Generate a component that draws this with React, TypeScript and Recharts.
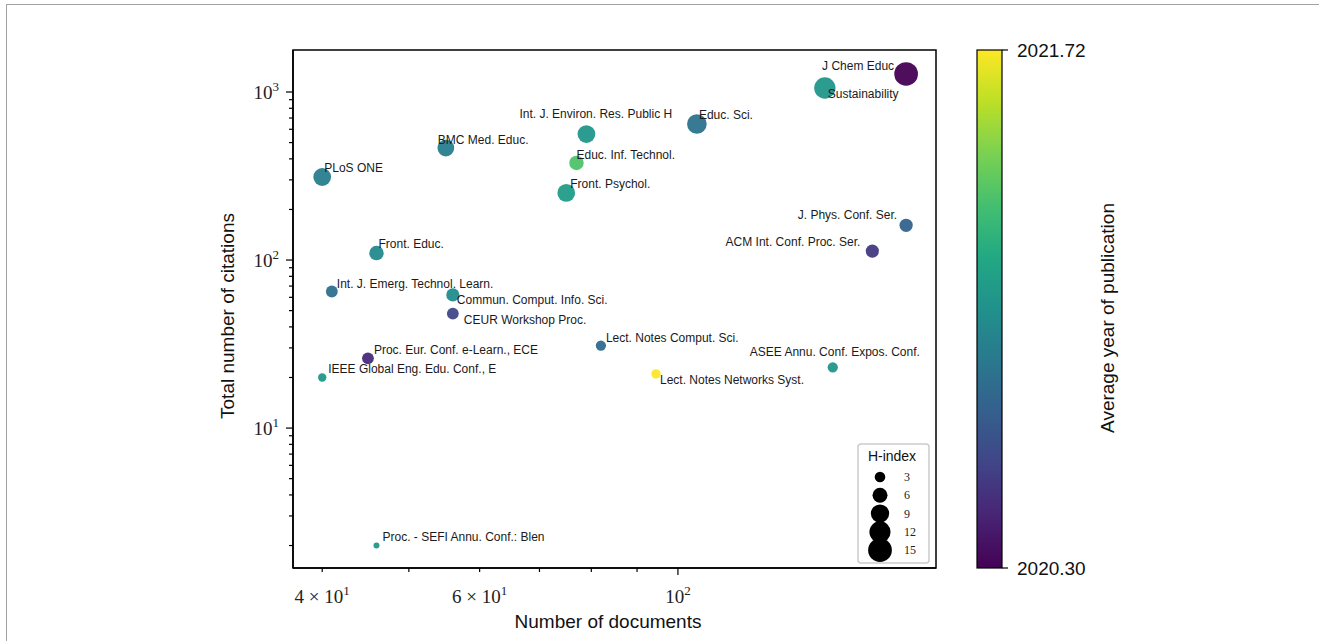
import React from 'react';
import { ScatterChart, Scatter, XAxis, YAxis, ZAxis, ReferenceArea } from 'recharts';

// journals
const journals = [
  'J Chem Educ',
  'Sustainability',
  'Int. J. Environ. Res. Public H',
  'Educ. Sci.',
  'BMC Med. Educ.',
  'Educ. Inf. Technol.',
  'PLoS ONE',
  'Front. Psychol.',
  'J. Phys. Conf. Ser.',
  'ACM Int. Conf. Proc. Ser.',
  'Front. Educ.',
  'Int. J. Emerg. Technol. Learn.',
  'Commun. Comput. Info. Sci.',
  'CEUR Workshop Proc.',
  'Lect. Notes Comput. Sci.',
  'Proc. Eur. Conf. e-Learn., ECE',
  'ASEE Annu. Conf. Expos. Conf.',
  'IEEE Global Eng. Edu. Conf., E',
  'Lect. Notes Networks Syst.',
  'Proc. - SEFI Annu. Conf.: Blen',
];
const documents = [180, 146, 79, 105, 55, 77, 40, 75, 180, 165, 46, 41, 56, 56, 82, 45, 149, 40, 94.5, 46];
const citations = [1280, 1056, 562, 645, 464, 378, 312, 251, 161, 113, 110, 65, 62, 48, 31, 26, 23, 20, 21, 2];
const hIndex = [16, 13, 9, 11, 8, 6, 9, 9, 5, 5, 6, 4, 5, 4, 3, 4, 3, 2, 2.5, 1];
const avgYear = [
  2020.3, 2021.04, 2021.04, 2020.84, 2020.9, 2021.32, 2020.9, 2021.08, 2020.75, 2020.54,
  2020.97, 2020.83, 2020.98, 2020.61, 2020.8, 2020.47, 2021.04, 2021.04, 2021.72, 2021.04,
];

const xTicks = [40, 50, 60, 70, 80, 90, 100];
const xTickLabels: Record<number, [string, string]> = {
  40: ['4 × 10', '1'],
  60: ['6 × 10', '1'],
  100: ['10', '2'],
};
const yTicks = [2, 3, 4, 5, 6, 7, 8, 9, 10, 20, 30, 40, 50, 60, 70, 80, 90, 100, 200, 300, 400, 500, 600, 700, 800, 900, 1000];
const yTickLabels: Record<number, string> = { 10: '1', 100: '2', 1000: '3' };
const legendH = [3, 6, 9, 12, 15];
const yearMin = 2020.3;
const yearMax = 2021.72;

const data = journals.map((name, i) => ({
  name,
  docs: documents[i],
  cites: citations[i],
  h: hIndex[i],
  year: avgYear[i],
}));

// where each label sits relative to its bubble: [dx, dy, anchor]
const labelOffsets: Record<string, [number, number, string]> = {
  'J Chem Educ': [-12, -7, 'end'],
  'Sustainability': [3, 7, 'start'],
  'Int. J. Environ. Res. Public H': [-67, -19, 'start'],
  'Educ. Sci.': [2, -8, 'start'],
  'BMC Med. Educ.': [-8, -7, 'start'],
  'Educ. Inf. Technol.': [0, -7, 'start'],
  'PLoS ONE': [2, -8, 'start'],
  'Front. Psychol.': [4, -8, 'start'],
  'J. Phys. Conf. Ser.': [-9, -9, 'end'],
  'ACM Int. Conf. Proc. Ser.': [-12, -8, 'end'],
  'Front. Educ.': [2, -8, 'start'],
  'Int. J. Emerg. Technol. Learn.': [5, -7, 'start'],
  'Commun. Comput. Info. Sci.': [4, 6, 'start'],
  'CEUR Workshop Proc.': [11, 7, 'start'],
  'Lect. Notes Comput. Sci.': [5, -7, 'start'],
  'Proc. Eur. Conf. e-Learn., ECE': [6, -8, 'start'],
  'ASEE Annu. Conf. Expos. Conf.': [-83, -14, 'start'],
  'IEEE Global Eng. Edu. Conf., E': [6, -8, 'start'],
  'Lect. Notes Networks Syst.': [4, 7, 'start'],
  'Proc. - SEFI Annu. Conf.: Blen': [6, -8, 'start'],
};

const X_DOMAIN = [37.1, 194.4];
const Y_DOMAIN = [1.47, 1778];
const Z_MAX = 15;
const AREA_MAX = 440;

const viridisStops = [
  '#440154', '#482475', '#414487', '#355f8d', '#2a788e', '#21918c',
  '#22a884', '#44bf70', '#7ad151', '#bddf26', '#fde725',
];

const hex = (c: string) => [1, 3, 5].map((k) => parseInt(c.slice(k, k + 2), 16));

function viridis(t: number) {
  const v = Math.min(1, Math.max(0, t)) * 10;
  const i = Math.min(9, Math.floor(v));
  const f = v - i;
  const a = hex(viridisStops[i]);
  const b = hex(viridisStops[i + 1]);
  const m = a.map((x, k) => Math.round(x + (b[k] - x) * f));
  return `rgb(${m[0]},${m[1]},${m[2]})`;
}

const sans = '"Liberation Sans", Arial, sans-serif';
const serif = '"Liberation Serif", "Times New Roman", serif';

const Bubble = (props: any) => {
  const { cx, cy, size, payload } = props;
  const r = Math.sqrt(Math.max(size, 0) / Math.PI);
  const t = (payload.year - yearMin) / (yearMax - yearMin);
  return <circle cx={cx} cy={cy} r={r} fill={viridis(t)} fillOpacity={0.95} />;
};

const BubbleLabel = (props: any) => {
  const { cx, cy, payload } = props;
  const [dx, dy, anchor] = labelOffsets[payload.name] || [4, -8, 'start'];
  return (
    <text
      x={cx + dx}
      y={cy + dy}
      textAnchor={anchor}
      dominantBaseline="middle"
      fontFamily={sans}
      fontSize={12}
      fill="#1a1a1a"
    >
      {payload.name}
    </text>
  );
};

const XTick = (props: any) => {
  const { x, y, payload } = props;
  const lab = xTickLabels[payload.value];
  const len = payload.value === 100 ? 7 : 4;
  return (
    <g>
      <line x1={x} x2={x} y1={y} y2={y + len} stroke="#000" strokeWidth={1.2} />
      {lab && (
        <text x={x} y={y + 35} textAnchor="middle" fontFamily={serif} fontSize={19} fill="#222">
          {lab[0]}
          <tspan dy={-8} fontSize={13}>{lab[1]}</tspan>
        </text>
      )}
    </g>
  );
};

const YTick = (props: any) => {
  const { x, y, payload } = props;
  const lab = yTickLabels[payload.value];
  const len = lab ? 7 : 4;
  return (
    <g>
      <line x1={x} x2={x - len} y1={y} y2={y} stroke="#000" strokeWidth={1.2} />
      {lab && (
        <text x={x - 14} y={y + 7} textAnchor="end" fontFamily={serif} fontSize={19} fill="#222">
          10
          <tspan dy={-8} fontSize={13}>{lab}</tspan>
        </text>
      )}
    </g>
  );
};

const legendR = (h: number) => Math.sqrt((h * AREA_MAX) / Z_MAX / Math.PI);

export default function App() {
  return (
    <div style={{ position: 'absolute', left: 0, top: 0, width: 1319, height: 641, background: '#fff' }}>
      <div
        style={{
          position: 'absolute',
          left: 6,
          top: 4,
          width: 1313,
          height: 637,
          borderTop: '1.5px solid #a3a3a3',
          borderLeft: '1.5px solid #a3a3a3',
          boxSizing: 'border-box',
        }}
      />
      <div style={{ position: 'absolute', left: 0, top: 0 }}>
        <ScatterChart width={1319} height={641} margin={{ top: 50, right: 383, bottom: 43, left: 233 }}>
          <XAxis
            dataKey="docs"
            type="number"
            scale="log"
            domain={X_DOMAIN}
            allowDataOverflow
            ticks={xTicks}
            interval={0}
            tick={<XTick />}
            tickLine={false}
            tickSize={0}
            tickMargin={0}
            height={30}
            axisLine={{ stroke: '#000', strokeWidth: 1.5 }}
          />
          <YAxis
            dataKey="cites"
            type="number"
            scale="log"
            domain={Y_DOMAIN}
            allowDataOverflow
            ticks={yTicks}
            interval={0}
            tick={<YTick />}
            tickLine={false}
            tickSize={0}
            tickMargin={0}
            width={60}
            axisLine={{ stroke: '#000', strokeWidth: 1.5 }}
          />
          <ZAxis dataKey="h" type="number" domain={[0, Z_MAX]} range={[0, AREA_MAX]} />
          <ReferenceArea
            x1={X_DOMAIN[0]}
            x2={X_DOMAIN[1]}
            y1={Y_DOMAIN[0]}
            y2={Y_DOMAIN[1]}
            fill="none"
            stroke="#000"
            strokeWidth={1.5}
            ifOverflow="visible"
          />
          <Scatter data={data} shape={<Bubble />} isAnimationActive={false} />
          <Scatter data={data} shape={<BubbleLabel />} isAnimationActive={false} />
        </ScatterChart>
      </div>
      <svg
        width={1319}
        height={641}
        style={{ position: 'absolute', left: 0, top: 0, pointerEvents: 'none' }}
      >
        <defs>
          <linearGradient id="viridis" x1="0" y1="1" x2="0" y2="0">
            {viridisStops.map((c, i) => (
              <stop key={c} offset={`${i * 10}%`} stopColor={c} />
            ))}
          </linearGradient>
        </defs>
        {/* axis titles */}
        <text x={608} y={628} textAnchor="middle" fontFamily={sans} fontSize={19} fill="#111">
          Number of documents
        </text>
        <text
          x={0}
          y={0}
          transform="translate(234 316) rotate(-90)"
          textAnchor="middle"
          fontFamily={sans}
          fontSize={19}
          fill="#111"
        >
          Total number of citations
        </text>
        {/* size legend */}
        <rect x={858} y={444} width={71} height={119} rx={3} fill="#fff" stroke="#cccccc" strokeWidth={1.5} />
        <text x={892} y={461} textAnchor="middle" fontFamily={sans} fontSize={14} fill="#111">
          H-index
        </text>
        {legendH.map((h, i) => (
          <g key={h}>
            <circle cx={880} cy={477 + i * 18.3} r={legendR(h)} fill="#000" />
            <text x={904} y={481 + i * 18.3} fontFamily={serif} fontSize={12} fill="#222">
              {h}
            </text>
          </g>
        ))}
        {/* colour bar */}
        <rect x={977} y={50} width={25} height={518} fill="url(#viridis)" stroke="#000" strokeWidth={1.2} />
        <line x1={1002} x2={1008} y1={50} y2={50} stroke="#000" strokeWidth={1.2} />
        <line x1={1002} x2={1008} y1={568} y2={568} stroke="#000" strokeWidth={1.2} />
        <text x={1017} y={57} fontFamily={sans} fontSize={19} fill="#111">
          {yearMax.toFixed(2)}
        </text>
        <text x={1017} y={575} fontFamily={sans} fontSize={19} fill="#111">
          {yearMin.toFixed(2)}
        </text>
        <text
          x={0}
          y={0}
          transform="translate(1114 318) rotate(-90)"
          textAnchor="middle"
          fontFamily={sans}
          fontSize={19}
          fill="#111"
        >
          Average year of publication
        </text>
      </svg>
    </div>
  );
}
